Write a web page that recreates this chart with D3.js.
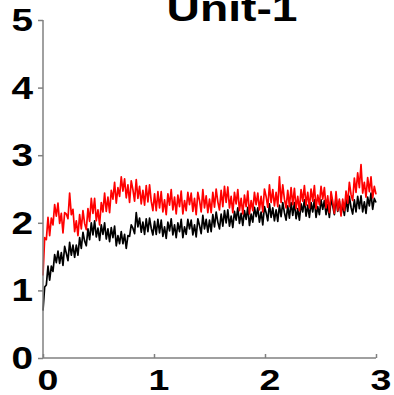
<!DOCTYPE html>
<html><head><meta charset="utf-8">
<script src="https://cdn.jsdelivr.net/npm/d3@7"></script>
<style>html,body{margin:0;padding:0;background:#fff;}svg{display:block;}</style>
</head><body>
<script>
const title = "Unit-1";
const xTicks = [0, 1, 2, 3];
const yTicks = [0, 1, 2, 3, 4, 5];
const xDomain = [0, 3];
const yDomain = [0, 5];
// black trace (values sampled evenly across 0..3)
const blackValues = [
0.70,1.05,1.08,1.36,1.15,1.36,1.28,1.53,1.41,1.58,
1.40,1.56,1.37,1.65,1.55,1.44,1.71,1.52,1.67,1.49,
1.67,1.52,1.78,1.62,1.86,1.73,1.66,1.91,1.75,2.00,
1.82,2.03,1.79,1.92,1.74,1.97,1.83,2.00,1.76,1.91,
1.72,1.93,1.78,1.95,1.66,1.81,1.69,1.87,1.69,1.83,
1.62,1.81,1.80,1.97,1.92,1.84,2.15,1.94,2.07,1.86,
2.01,1.83,2.06,1.87,2.07,1.92,1.82,2.02,1.83,2.05,
1.85,2.04,1.80,1.94,1.77,2.01,1.88,2.06,1.82,1.97,
1.78,2.00,1.87,2.05,1.78,1.94,1.83,2.05,1.91,2.04,
1.82,1.97,1.79,2.06,1.96,1.84,2.11,1.91,2.05,1.86,
2.04,1.87,2.12,1.94,2.16,2.01,1.91,2.13,1.95,2.18,
2.00,2.19,1.95,2.10,1.93,2.17,2.04,2.22,1.99,2.14,
1.96,2.18,2.05,2.23,1.96,2.13,2.01,2.23,2.09,2.22,
2.01,2.16,1.97,2.24,2.15,2.03,2.28,2.08,2.22,2.03,
2.19,2.02,2.26,2.09,2.30,2.15,2.04,2.25,2.07,2.30,
2.11,2.30,2.06,2.21,2.04,2.28,2.16,2.34,2.10,2.26,
2.08,2.30,2.16,2.34,2.08,2.24,2.12,2.34,2.20,2.33,
2.12,2.27,2.08,2.35,2.25,2.12,2.38,2.17,2.32,2.12,
2.28,2.11,2.35,2.17,2.39,2.23,2.13,2.34,2.16,2.39,
2.21,2.40,2.16,2.31,2.14,2.38,2.25,2.44,2.20,2.36,
2.30];
// red trace
const redValues = [
1.22,1.78,1.75,2.08,1.81,2.07,1.97,2.27,2.10,2.29,
1.99,2.14,1.85,2.15,2.13,2.06,2.44,2.12,2.20,1.87,
2.03,1.81,2.12,1.91,2.18,1.99,1.90,2.21,2.02,2.36,
2.14,2.36,2.03,2.19,1.97,2.30,2.16,2.44,2.17,2.38,
2.15,2.48,2.35,2.60,2.29,2.52,2.39,2.68,2.47,2.65,
2.37,2.56,2.30,2.62,2.49,2.32,2.64,2.36,2.54,2.28,
2.48,2.26,2.55,2.31,2.56,2.32,2.18,2.43,2.18,2.46,
2.22,2.46,2.16,2.34,2.12,2.43,2.26,2.49,2.19,2.38,
2.13,2.41,2.24,2.47,2.13,2.33,2.18,2.45,2.27,2.44,
2.17,2.36,2.12,2.45,2.33,2.16,2.49,2.22,2.40,2.15,
2.35,2.15,2.45,2.23,2.50,2.31,2.19,2.48,2.24,2.54,
2.30,2.53,2.22,2.39,2.15,2.45,2.28,2.49,2.18,2.36,
2.13,2.41,2.24,2.47,2.13,2.33,2.18,2.45,2.27,2.44,
2.19,2.39,2.16,2.50,2.39,2.23,2.56,2.30,2.49,2.25,
2.45,2.24,2.68,2.30,2.56,2.35,2.22,2.48,2.24,2.52,
2.27,2.51,2.21,2.39,2.18,2.49,2.32,2.55,2.26,2.45,
2.22,2.50,2.32,2.55,2.21,2.41,2.27,2.54,2.35,2.52,
2.22,2.40,2.15,2.46,2.32,2.14,2.46,2.18,2.35,2.10,
2.35,2.18,2.47,2.29,2.60,2.42,2.33,2.66,2.45,2.74,
2.52,2.86,2.44,2.60,2.38,2.67,2.46,2.68,2.37,2.54,
2.42];
const seriesNames = ["black", "red"];
const seriesColors = ["#000000", "#ff0000"];

const W = 394, H = 395;
const margin = {left: 43, right: 18, top: 20, bottom: 37};
const svg = d3.select("body").append("svg").attr("width", W).attr("height", H);
const x = d3.scaleLinear().domain(xDomain).range([margin.left, W - margin.right]);
const y = d3.scaleLinear().domain(yDomain).range([H - margin.bottom, margin.top]);
const font = "'Liberation Sans', Arial, Helvetica, sans-serif";
const sx = 1.25;

// lines
const series = [blackValues, redValues];
series.forEach((vals, si) => {
  const n = vals.length;
  const pts = vals.map((v, i) => [xDomain[0] + (xDomain[1] - xDomain[0]) * i / (n - 1), v]);
  svg.append("path")
    .datum(pts)
    .attr("fill", "none")
    .attr("stroke", seriesColors[si])
    .attr("stroke-width", 1.7)
    .attr("stroke-linejoin", "round")
    .attr("d", d3.line().x(d => x(d[0])).y(d => y(d[1])));
});

// axes
const axisColor = "#808080";
const yAxis = svg.append("g").attr("transform", `translate(${margin.left},0)`)
  .call(d3.axisLeft(y).tickValues(yTicks).tickSize(5).tickFormat(""));
const xAxis = svg.append("g").attr("transform", `translate(0,${H - margin.bottom})`)
  .call(d3.axisTop(x).tickValues(xTicks).tickSize(4).tickFormat(""));
[yAxis, xAxis].forEach(g => {
  g.select(".domain").attr("stroke", axisColor).attr("stroke-width", 1.5);
  g.selectAll(".tick line").attr("stroke", axisColor).attr("stroke-width", 1.5);
});
xAxis.select(".domain").attr("d", `M${x(xDomain[0])},0H${x(xDomain[1])}`);
yAxis.select(".domain").attr("d", `M0,${y(yDomain[0])}V${y(yDomain[1])}`);

// tick labels
svg.append("g").selectAll("text").data(yTicks).join("text")
  .attr("transform", d => `translate(33,${y(d) + 11}) scale(${sx},1)`)
  .attr("text-anchor", "end")
  .attr("font-family", font).attr("font-weight", "bold").attr("font-size", 31)
  .attr("fill", "#000").text(d => d);
svg.append("g").selectAll("text").data(xTicks).join("text")
  .attr("transform", d => `translate(${x(d) + 5},390) scale(${sx},1)`)
  .attr("text-anchor", "middle")
  .attr("font-family", font).attr("font-weight", "bold").attr("font-size", 30)
  .attr("fill", "#000").text(d => d);

// title (top is cropped in the reference as well)
svg.append("text")
  .attr("transform", `translate(232,21) scale(${sx},1)`)
  .attr("text-anchor", "middle")
  .attr("font-family", font).attr("font-weight", "bold").attr("font-size", 37)
  .attr("fill", "#000").text(title);
</script>
</body></html>
